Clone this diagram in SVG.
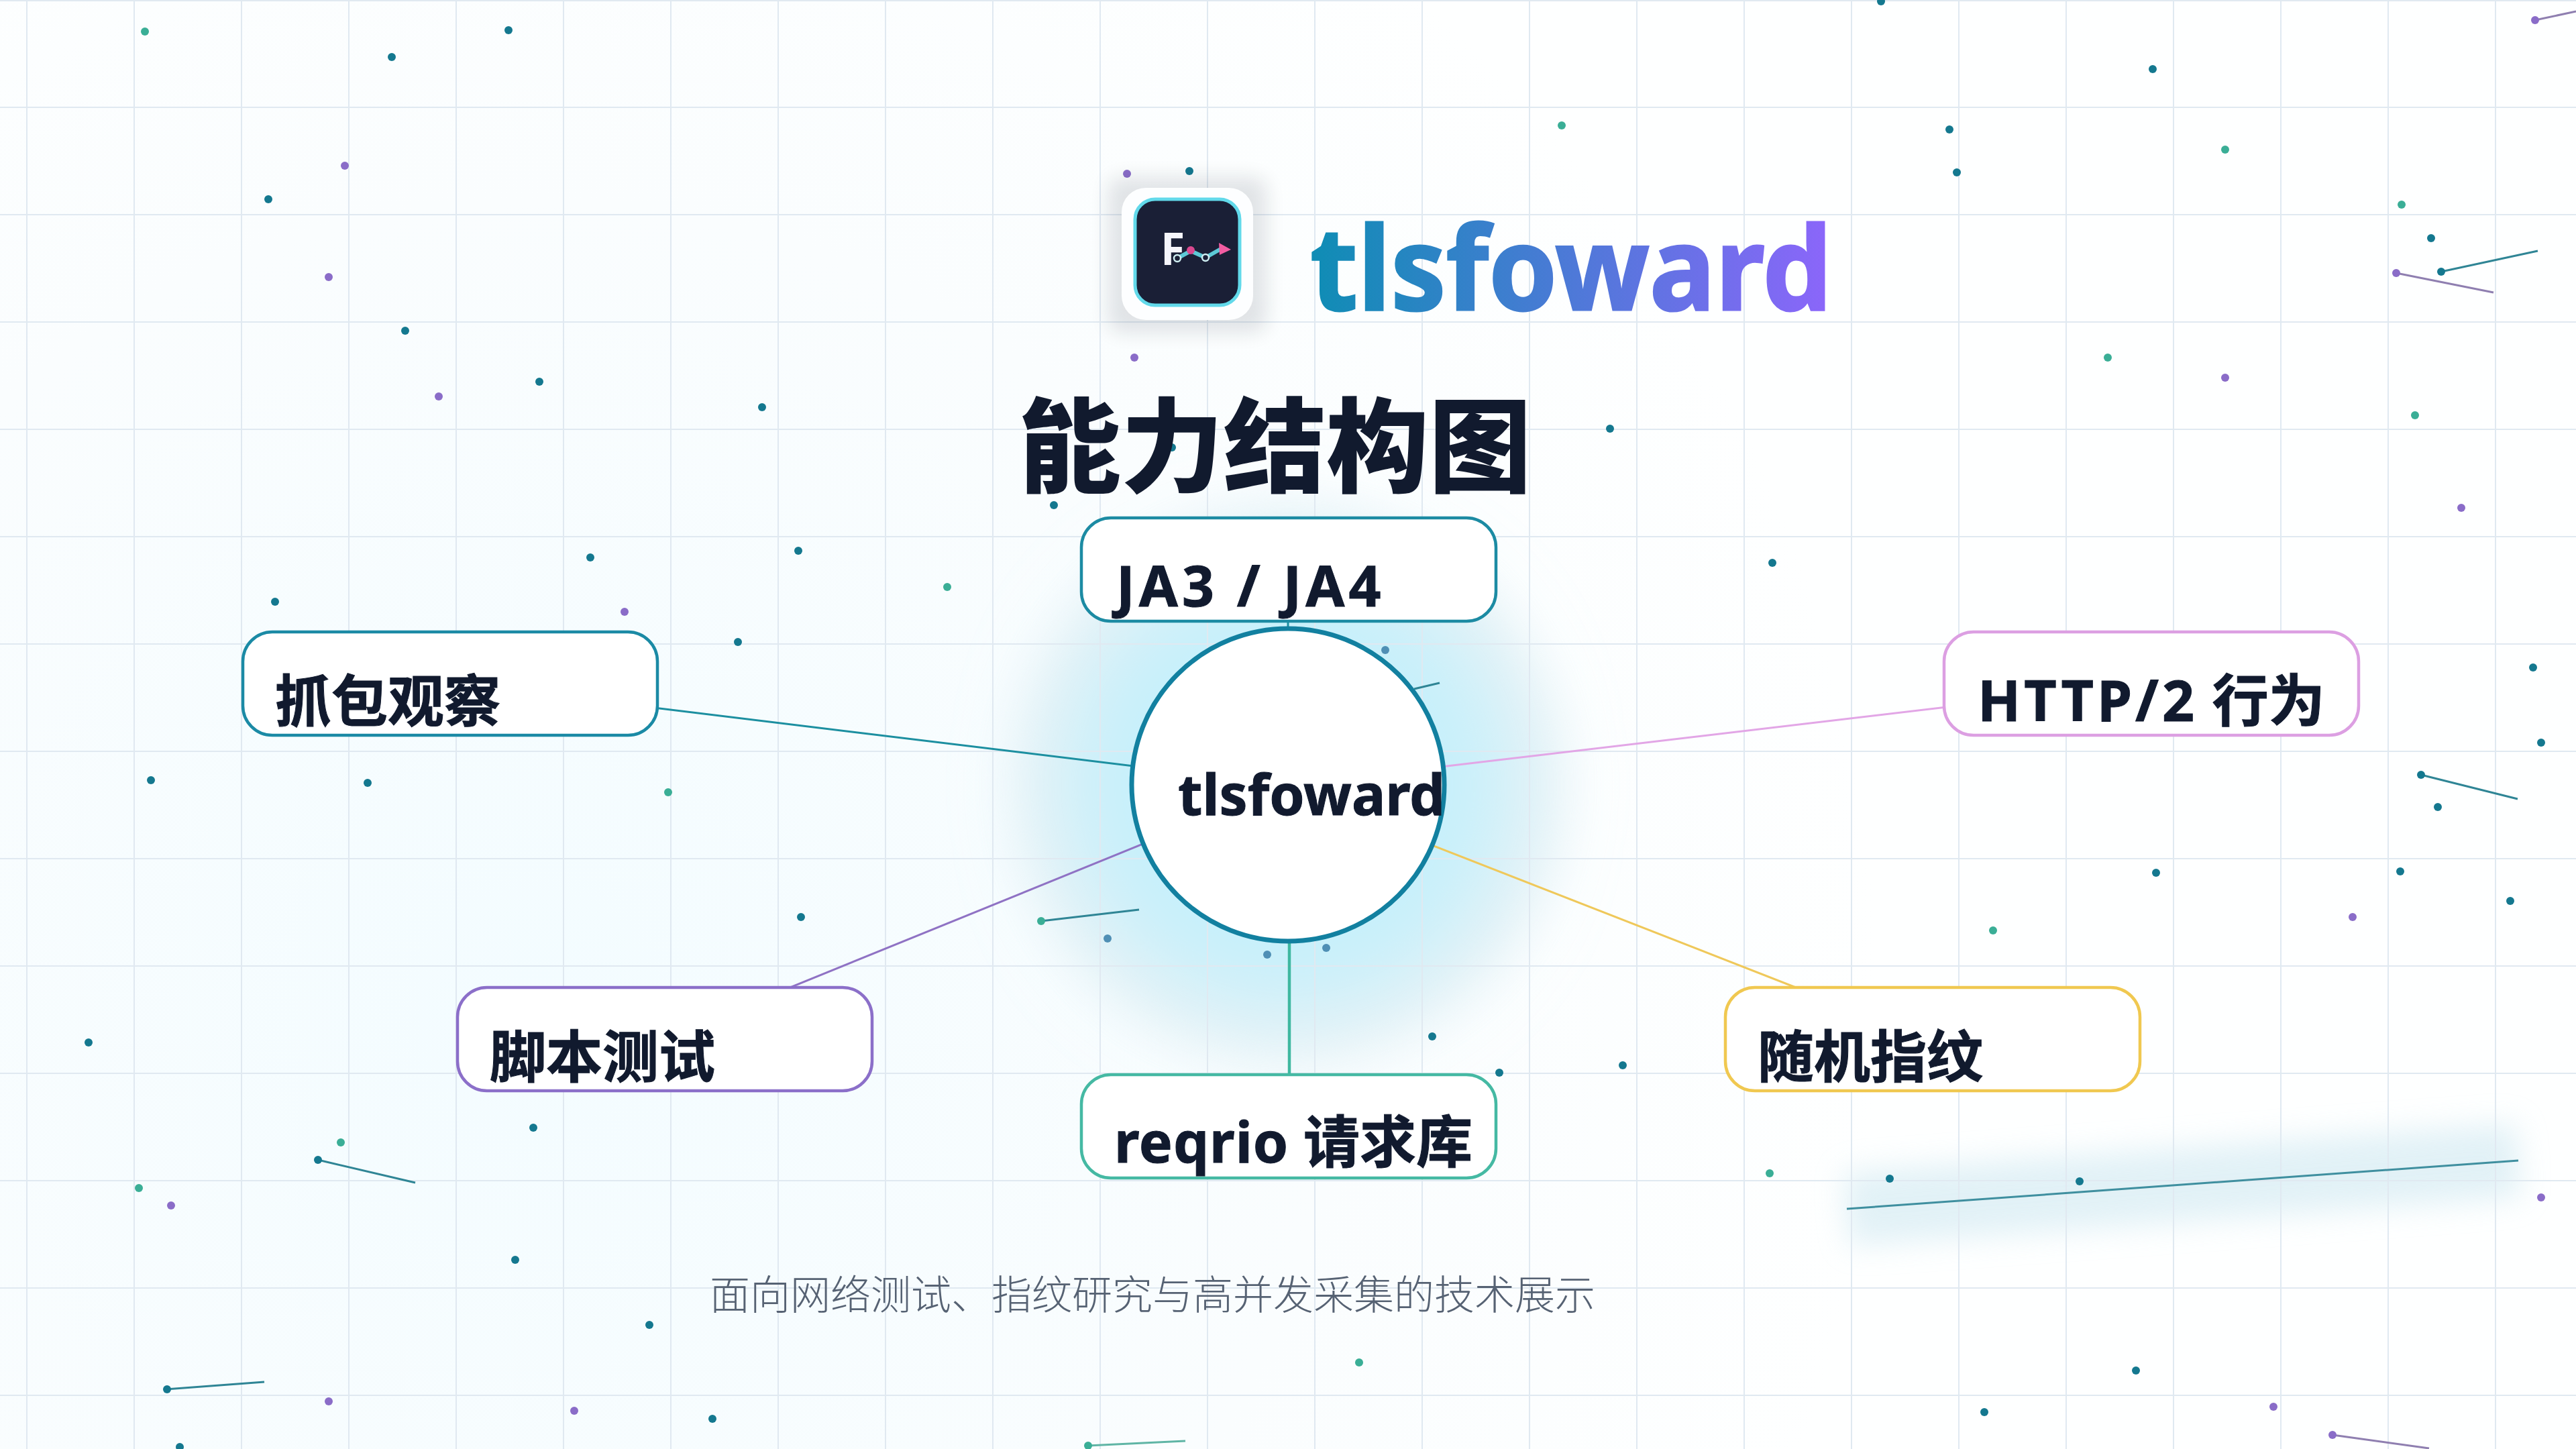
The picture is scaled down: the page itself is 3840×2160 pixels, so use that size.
<svg xmlns="http://www.w3.org/2000/svg" width="3840" height="2160" viewBox="0 0 3840 2160">
<defs>
<radialGradient id="bgTint" gradientUnits="userSpaceOnUse" cx="800" cy="1500" r="2000"><stop offset="0" stop-color="#f3fcff"/><stop offset="0.6" stop-color="#fafdfe"/><stop offset="1" stop-color="#feffff"/></radialGradient>
<linearGradient id="brand" gradientUnits="userSpaceOnUse" x1="1950" y1="0" x2="2725" y2="0"><stop offset="0" stop-color="#0e8db4"/><stop offset="1" stop-color="#8b66fa"/></linearGradient>
<filter id="blur60" x="-60%" y="-60%" width="220%" height="220%"><feGaussianBlur stdDeviation="70"/></filter>
<filter id="blur30" x="-60%" y="-60%" width="220%" height="220%"><feGaussianBlur stdDeviation="36"/></filter>
<filter id="blur16" x="-30%" y="-30%" width="160%" height="160%"><feGaussianBlur stdDeviation="14"/></filter>
<filter id="blurLine" filterUnits="userSpaceOnUse" x="2700" y="1620" width="1120" height="320"><feGaussianBlur stdDeviation="22"/></filter>
</defs>
<style>
.grid{fill:none;stroke:#e0e9f1;stroke-width:2}
#sparks circle{r:6px}
.t{fill:#14788f}.g{fill:#3aae96}.p{fill:#8a6cc8}.b{fill:#4f8fb5}
.tl{stroke:#2f8595;stroke-width:3;fill:none}.pl{stroke:#8f7fb0;stroke-width:3;fill:none}.gl{stroke:#5fb5a5;stroke-width:3;fill:none}
.conn{fill:none;stroke-width:3}
.box{fill:#fff;stroke-width:4.5}
.lbl{font-family:"Noto Sans","Noto Sans CJK SC",sans-serif;font-size:84px;font-weight:700;fill:#111a2e;stroke:#111a2e;stroke-width:1}
</style>
<rect width="3840" height="2160" fill="url(#bgTint)"/>
<g id="glow">
<circle cx="1920" cy="1170" r="405" fill="#e6edf1" opacity="0.7" filter="url(#blur30)"/>
<circle cx="1920" cy="1170" r="345" fill="#c6f0fb" filter="url(#blur60)"/>
</g>
<path id="line-glow" d="M2753 1802L3754 1730" stroke="#cfe8f1" stroke-width="110" opacity="0.6" fill="none" filter="url(#blurLine)"/>
<path class="grid" d="M40 0V2160M200 0V2160M360 0V2160M520 0V2160M680 0V2160M840 0V2160M1000 0V2160M1160 0V2160M1320 0V2160M1480 0V2160M1640 0V2160M1800 0V2160M1960 0V2160M2120 0V2160M2280 0V2160M2440 0V2160M2600 0V2160M2760 0V2160M2920 0V2160M3080 0V2160M3240 0V2160M3400 0V2160M3560 0V2160M3720 0V2160M0 1H3840M0 160H3840M0 320H3840M0 480H3840M0 640H3840M0 800H3840M0 960H3840M0 1120H3840M0 1280H3840M0 1440H3840M0 1600H3840M0 1760H3840M0 1920H3840M0 2080H3840"/>
<g id="sparks">
<path class="tl" d="M3639 405L3783 374M474 1729L619 1763M249 2071L394 2060M3609 1155L3753 1191M2108 1027L2146 1018M1552 1373L1698 1356"/>
<path class="gl" d="M1622 2155L1767 2148"/>
<path class="pl" d="M3572 407L3717 436M3779 30L3840 17M3477 2139L3621 2159"/>
<path d="M2753 1802L3754 1730" stroke="#3f8f9f" stroke-width="3" fill="none"/>
<g class="t">
<circle cx="584" cy="85" r="5.5"/><circle cx="758" cy="45" r="5.5"/><circle cx="400" cy="297" r="5.5"/><circle cx="604" cy="493" r="5.5"/><circle cx="804" cy="569" r="5.5"/><circle cx="1136" cy="607" r="5.5"/><circle cx="1571" cy="753" r="5.5"/><circle cx="880" cy="831" r="5.5"/><circle cx="1190" cy="821" r="5.5"/><circle cx="410" cy="897" r="5.5"/><circle cx="2804" cy="2" r="5.5"/><circle cx="3209" cy="103" r="5.5"/><circle cx="2906" cy="193" r="5.5"/><circle cx="2917" cy="257" r="5.5"/><circle cx="3624" cy="355" r="5.5"/><circle cx="3639" cy="405" r="5.5"/><circle cx="2400" cy="639" r="5.5"/><circle cx="2642" cy="839" r="5.5"/><circle cx="1773" cy="255" r="5.5"/><circle cx="1747" cy="667" r="5.5"/><circle cx="2135" cy="1545" r="5.5"/><circle cx="2235" cy="1599" r="5.5"/><circle cx="1100" cy="957" r="5.5"/><circle cx="548" cy="1167" r="5.5"/><circle cx="225" cy="1163" r="5.5"/><circle cx="1194" cy="1367" r="5.5"/><circle cx="795" cy="1681" r="5.5"/><circle cx="3214" cy="1301" r="5.5"/><circle cx="3578" cy="1299" r="5.5"/><circle cx="132" cy="1554" r="5.5"/><circle cx="474" cy="1729" r="5.5"/><circle cx="768" cy="1878" r="5.5"/><circle cx="968" cy="1975" r="5.5"/><circle cx="249" cy="2071" r="5.5"/><circle cx="1062" cy="2115" r="5.5"/><circle cx="268" cy="2157" r="5.5"/><circle cx="3788" cy="1107" r="5.5"/><circle cx="3776" cy="995" r="5.5"/><circle cx="3609" cy="1155" r="5.5"/><circle cx="3634" cy="1203" r="5.5"/><circle cx="3742" cy="1343" r="5.5"/><circle cx="2419" cy="1588" r="5.5"/><circle cx="2817" cy="1757" r="5.5"/><circle cx="3100" cy="1761" r="5.5"/><circle cx="3184" cy="2043" r="5.5"/><circle cx="2958" cy="2105" r="5.5"/>
</g>
<g class="g">
<circle cx="216" cy="47" r="5.5"/><circle cx="1412" cy="875" r="5.5"/><circle cx="2328" cy="187" r="5.5"/><circle cx="3317" cy="223" r="5.5"/><circle cx="3580" cy="305" r="5.5"/><circle cx="3142" cy="533" r="5.5"/><circle cx="3600" cy="619" r="5.5"/><circle cx="1552" cy="1373" r="5.5"/><circle cx="996" cy="1181" r="5.5"/><circle cx="2971" cy="1387" r="5.5"/><circle cx="508" cy="1703" r="5.5"/><circle cx="207" cy="1771" r="5.5"/><circle cx="2638" cy="1749" r="5.5"/><circle cx="2026" cy="2031" r="5.5"/><circle cx="1622" cy="2155" r="5.5"/>
</g>
<g class="p">
<circle cx="514" cy="247" r="5.5"/><circle cx="490" cy="413" r="5.5"/><circle cx="654" cy="591" r="5.5"/><circle cx="931" cy="912" r="5.5"/><circle cx="3779" cy="30" r="5.5"/><circle cx="3572" cy="407" r="5.5"/><circle cx="3317" cy="563" r="5.5"/><circle cx="3669" cy="757" r="5.5"/><circle cx="1680" cy="259" r="5.5"/><circle cx="1691" cy="533" r="5.5"/><circle cx="3507" cy="1367" r="5.5"/><circle cx="255" cy="1797" r="5.5"/><circle cx="490" cy="2089" r="5.5"/><circle cx="856" cy="2103" r="5.5"/><circle cx="3788" cy="1785" r="5.5"/><circle cx="3389" cy="2097" r="5.5"/><circle cx="3477" cy="2139" r="5.5"/>
</g>
<g class="b">
<circle cx="2065" cy="969" r="5.5"/><circle cx="1651" cy="1399" r="5.5"/><circle cx="1889" cy="1423" r="5.5"/><circle cx="1977" cy="1413" r="5.5"/>
</g>
</g>
<g id="logo">
<rect x="1652" y="264" width="236" height="232" rx="20" fill="#0f172a" opacity="0.11" filter="url(#blur16)"/>
<rect x="1672" y="280" width="196" height="197" rx="36" fill="#fdfeff"/>
<rect x="1692" y="297" width="156" height="158" rx="30" fill="#1a1f36" stroke="#62d9ea" stroke-width="5"/>
<text x="1730" y="395" font-family="'Noto Sans',sans-serif" font-size="66" font-weight="700" fill="#f5f5fb">F</text>
<path d="M1755 385L1775 374L1797 384L1820 371" fill="none" stroke="#5cc9d6" stroke-width="6"/>
<path d="M1817 362L1835 372L1818 380Z" fill="#f25ca2"/>
<circle cx="1755" cy="385" r="5" fill="#1a1f36" stroke="#cfeef2" stroke-width="2.5"/>
<circle cx="1775" cy="373" r="6" fill="#d9488f"/>
<circle cx="1797" cy="384" r="5" fill="#1a1f36" stroke="#cfeef2" stroke-width="2.5"/>
</g>
<text id="brand-title" x="1953" y="462" font-family="'Noto Sans',sans-serif" font-size="172" font-weight="700" fill="url(#brand)" stroke="url(#brand)" stroke-width="3" textLength="778" lengthAdjust="spacingAndGlyphs">tlsfoward</text>
<text id="title" x="1518" y="722" font-family="'Noto Sans CJK SC',sans-serif" font-size="153" font-weight="900" fill="#111a2e">能力结构图</text>
<g id="connectors">
<path class="conn" stroke="#1c8fa0" d="M671 1018L1920 1170"/>
<path class="conn" stroke="#e2a6e6" d="M3207 1018L1920 1170"/>
<path class="conn" stroke="#8f72c4" d="M991 1548L1920 1170"/>
<path class="conn" stroke="#efc85a" d="M2700 1481L1920 1176"/>
<path class="conn" stroke="#1c8fa0" d="M1920 848L1920 1170"/>
<path class="conn" stroke="#3fb8a0" style="stroke-width:4.5" d="M1922 1678L1922 1170"/>
</g>
<g id="node-ja3"><rect class="box" x="1612" y="772" width="618" height="154" rx="44" stroke="#1c8ba3"/><text class="lbl" x="1664" y="904" style="letter-spacing:6px">JA3 / JA4</text></g>
<g id="node-capture"><rect class="box" x="362" y="942" width="618" height="154" rx="44" stroke="#1b8aa5"/><text class="lbl" x="410" y="1076">抓包观察</text></g>
<g id="node-http2"><rect class="box" x="2898" y="942" width="618" height="154" rx="44" stroke="#dc9fe2"/><text class="lbl" x="2948" y="1075"><tspan style="letter-spacing:5px">HTTP/2</tspan> 行为</text></g>
<g id="node-script"><rect class="box" x="682" y="1472" width="618" height="154" rx="44" stroke="#8b6fc9"/><text class="lbl" x="730" y="1606">脚本测试</text></g>
<g id="node-random"><rect class="box" x="2572" y="1472" width="618" height="154" rx="44" stroke="#f0c850"/><text class="lbl" x="2620" y="1606">随机指纹</text></g>
<g id="node-reqrio"><rect class="box" x="1612" y="1602" width="618" height="154" rx="44" stroke="#45b9a3"/><text class="lbl" x="1661" y="1733"><tspan style="letter-spacing:1px">reqrio</tspan> 请求库</text></g>
<g id="node-center"><circle cx="1920" cy="1170" r="233" fill="#fff" stroke="#1280a0" stroke-width="7"/><text class="lbl" x="1756" y="1215">tlsfoward</text></g>
<text id="subtitle" x="1058" y="1952" font-family="'Noto Sans CJK SC',sans-serif" font-size="60" font-weight="300" fill="#566273">面向网络测试、指纹研究与高并发采集的技术展示</text>
</svg>
